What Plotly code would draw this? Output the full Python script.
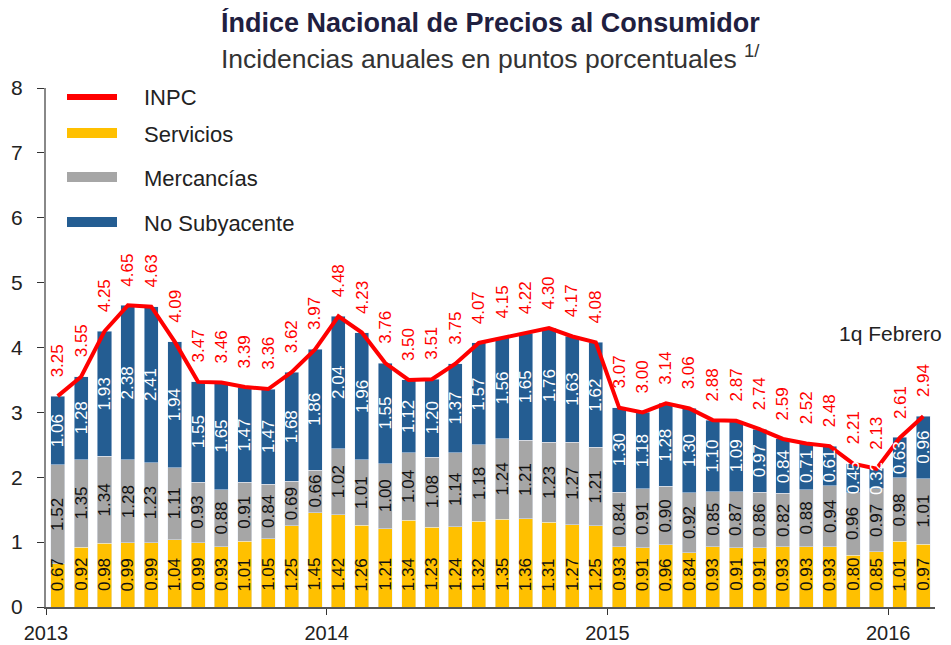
import plotly.graph_objects as go

periods = [f"2013-{m:02d}" for m in range(1, 13)] + [f"2014-{m:02d}" for m in range(1, 13)] + \
          [f"2015-{m:02d}" for m in range(1, 13)] + ["2016-01", "2016-02 1q"]

inpc = [3.25, 3.55, 4.25, 4.65, 4.63, 4.09, 3.47, 3.46, 3.39, 3.36, 3.62, 3.97,
        4.48, 4.23, 3.76, 3.50, 3.51, 3.75, 4.07, 4.15, 4.22, 4.30, 4.17, 4.08,
        3.07, 3.00, 3.14, 3.06, 2.88, 2.87, 2.74, 2.59, 2.52, 2.48, 2.21, 2.13,
        2.61, 2.94]
servicios = [0.67, 0.92, 0.98, 0.99, 0.99, 1.04, 0.99, 0.93, 1.01, 1.05, 1.25, 1.45,
             1.42, 1.26, 1.21, 1.34, 1.23, 1.24, 1.32, 1.35, 1.36, 1.31, 1.27, 1.25,
             0.93, 0.91, 0.96, 0.84, 0.93, 0.91, 0.91, 0.93, 0.93, 0.93, 0.80, 0.85,
             1.01, 0.97]
mercancias = [1.52, 1.35, 1.34, 1.28, 1.23, 1.11, 0.93, 0.88, 0.91, 0.84, 0.69, 0.66,
              1.02, 1.01, 1.00, 1.04, 1.08, 1.14, 1.18, 1.24, 1.21, 1.23, 1.27, 1.21,
              0.84, 0.91, 0.90, 0.92, 0.85, 0.87, 0.86, 0.82, 0.88, 0.94, 0.96, 0.97,
              0.98, 1.01]
no_subyacente = [1.06, 1.28, 1.93, 2.38, 2.41, 1.94, 1.55, 1.65, 1.47, 1.47, 1.68, 1.86,
                 2.04, 1.96, 1.55, 1.12, 1.20, 1.37, 1.57, 1.56, 1.65, 1.76, 1.63, 1.62,
                 1.30, 1.18, 1.28, 1.30, 1.10, 1.09, 0.97, 0.84, 0.71, 0.61, 0.45, 0.32,
                 0.63, 0.96]
year_ticks = ["2013", "2014", "2015", "2016"]
year_tick_pos = [-0.5, 11.5, 23.5, 35.5]

x = list(range(len(periods)))
FONT = "Liberation Sans, Arial, sans-serif"
C_SERV = "#FFC000"
C_MERC = "#A6A6A6"
C_NOSUB = "#245D92"
C_INPC = "#FF0000"
LBL = 17

fig = go.Figure()
fig.add_trace(go.Bar(x=x, y=servicios, marker_color=C_SERV, width=0.6, name="Servicios",
                     showlegend=False))
fig.add_trace(go.Bar(x=x, y=mercancias, marker_color=C_MERC, width=0.6, name="Mercancías",
                     showlegend=False))
fig.add_trace(go.Bar(x=x, y=no_subyacente, marker_color=C_NOSUB, width=0.6, name="No Subyacente",
                     showlegend=False))
fig.add_trace(go.Scatter(x=x, y=inpc, mode="lines", line=dict(color=C_INPC, width=4),
                         name="INPC", showlegend=False))

annotations = []
for i in x:
    s, m, n = servicios[i], mercancias[i], no_subyacente[i]
    annotations.append(dict(x=i, y=0.5, xref="x", yref="y", text=f"{s:.2f}", showarrow=False,
                            textangle=-90, font=dict(family=FONT, size=LBL, color="#111111")))
    annotations.append(dict(x=i, y=s + m / 2, xref="x", yref="y", text=f"{m:.2f}", showarrow=False,
                            textangle=-90, font=dict(family=FONT, size=LBL, color="#111111")))
    annotations.append(dict(x=i, y=s + m + n / 2, xref="x", yref="y", text=f"{n:.2f}",
                            showarrow=False, textangle=-90,
                            font=dict(family=FONT, size=LBL, color="#FFFFFF")))
for i, v in enumerate(inpc):
    annotations.append(dict(x=i, y=v, xref="x", yref="y", text=f"{v:.2f}", showarrow=False,
                            textangle=-90, yanchor="bottom", yshift=17,
                            font=dict(family=FONT, size=LBL, color=C_INPC)))
annotations.append(dict(x=35.6, y=4.22, xref="x", yref="y", text="1q Febrero", showarrow=False,
                        font=dict(family=FONT, size=21, color="#222222")))

# title
annotations.append(dict(x=0.5, y=1, xref="paper", yref="paper", yanchor="middle", yshift=66,
                        text="<b>Índice Nacional de Precios al Consumidor</b>", showarrow=False,
                        font=dict(family=FONT, size=27, color="#1F2040")))
annotations.append(dict(x=0.5, y=1, xref="paper", yref="paper", yanchor="middle", yshift=31,
                        text="Incidencias anuales en puntos porcentuales <sup>1/</sup>", showarrow=False,
                        font=dict(family=FONT, size=26.5, color="#333333")))

# plot-area edges in screenshot pixels (page body adds an 8px margin)
OFF = 8
L, R, T, B = 46, 935, 88, 607


def px(xp):
    return (xp - L) / (R - L)


def py(yp):
    return (B - yp) / (B - T)


legend_items = [("INPC", C_INPC, 6, 97), ("Servicios", C_SERV, 10, 133),
                ("Mercancías", C_MERC, 10, 177), ("No Subyacente", C_NOSUB, 10, 222)]
shapes = []
for name, col, w, yy in legend_items:
    shapes.append(dict(type="line", xref="paper", yref="paper", x0=px(67), x1=px(117),
                       y0=py(yy), y1=py(yy), line=dict(color=col, width=w)))
    annotations.append(dict(x=px(142), y=py(yy + 1), xref="paper", yref="paper", xanchor="left",
                            yanchor="middle", text=name, showarrow=False,
                            font=dict(family=FONT, size=22, color="#222222")))

fig.update_layout(
    width=951, height=645,
    margin=dict(l=L - OFF, r=951 - (R - OFF), t=T - OFF, b=645 - (B - OFF), autoexpand=False),
    barmode="stack", bargap=0.4,
    plot_bgcolor="white", paper_bgcolor="white",
    annotations=annotations, shapes=shapes,
    showlegend=False,
    font=dict(family=FONT, size=20, color="#222222"),
)
fig.update_xaxes(range=[-0.5, 37.5], tickmode="array", tickvals=year_tick_pos, ticktext=year_ticks,
                 ticks="outside", ticklen=6, tickcolor="#333333", showline=True, linecolor="#555555",
                 linewidth=2, showgrid=False, zeroline=False, ticklabelstandoff=1, automargin=False,
                 tickfont=dict(family=FONT, size=20, color="#222222"))
fig.update_yaxes(range=[0, 8], dtick=1, ticks="outside", ticklen=7, tickcolor="#333333",
                 showline=True, linecolor="#888888", linewidth=2, showgrid=False, zeroline=False,
                 ticklabelstandoff=10, automargin=False,
                 tickfont=dict(family=FONT, size=21, color="#222222"))

fig.write_html("out.html")
